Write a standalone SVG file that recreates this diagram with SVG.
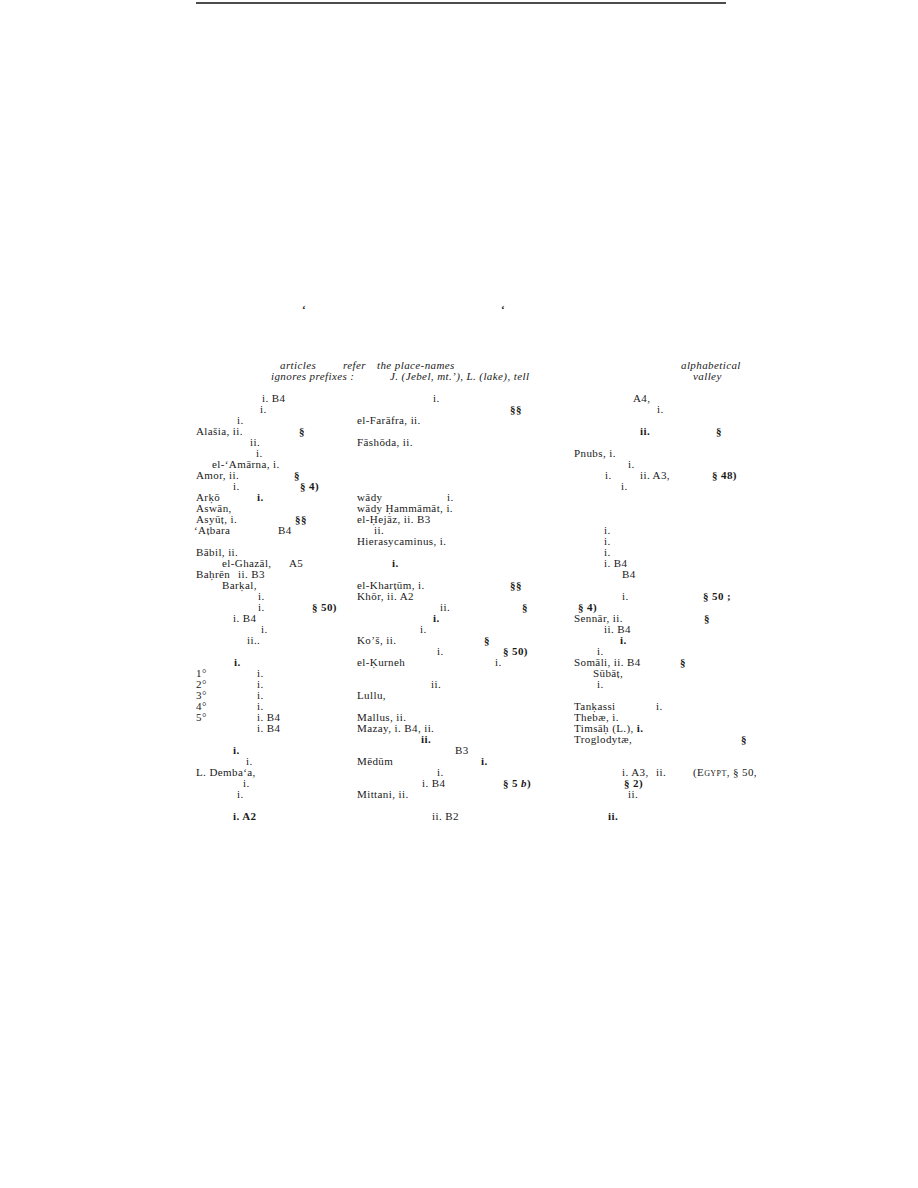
<svg xmlns="http://www.w3.org/2000/svg" width="918" height="1188" viewBox="0 0 918 1188">
<style>
text{font-family:"Liberation Serif","DejaVu Serif",serif;font-size:11px;letter-spacing:0.4px;fill:#1a1a1a}
.it{font-style:italic}
.b{font-weight:bold}
.sc{font-variant:small-caps}
</style>
<rect width="918" height="1188" fill="#fff"/>
<line x1="196" y1="3" x2="726" y2="3" stroke="#111" stroke-width="1.5"/>
<g id="header">
<text x="302" y="313" class="b" font-size="15">‘</text>
<text x="501" y="313" class="b" font-size="15">‘</text>
<text x="280" y="369" class="it">articles</text>
<text x="343" y="369" class="it">refer</text>
<text x="377" y="369" class="it">the place-names</text>
<text x="681" y="369" class="it">alphabetical</text>
<text x="271" y="380" class="it">ignores prefixes :</text>
<text x="390" y="380" class="it">J. (Jebel,   mt.’), L. (lake), tell</text>
<text x="693" y="380" class="it">valley</text>
</g>
<g id="col1">
<text x="262" y="402">i. B4</text>
<text x="260" y="413">i.</text>
<text x="237" y="424">i.</text>
<text x="196" y="435">Alašia, ii.</text><text x="299" y="435" class="b">§</text>
<text x="250" y="446">ii.</text>
<text x="256" y="457">i.</text>
<text x="212" y="468">el-‘Amārna, i.</text>
<text x="196" y="479">Amor, ii.</text><text x="294" y="479" class="b">§</text>
<text x="233" y="490">i.</text><text x="300" y="490" class="b">§ 4)</text>
<text x="196" y="501">Arḳō</text><text x="257" y="501" class="b">i.</text>
<text x="196" y="512">Aswān,</text>
<text x="196" y="523">Asyūṭ, i.</text><text x="295" y="523" class="b">§§</text>
<text x="194" y="534">‘Aṭbara</text><text x="278" y="534">B4</text>
<text x="196" y="556">Bābil, ii.</text>
<text x="222" y="567">el-Ghazāl,</text><text x="289" y="567">A5</text>
<text x="196" y="578">Baḥrēn</text><text x="238" y="578">ii. B3</text>
<text x="222" y="589">Barḳal,</text>
<text x="258" y="600">i.</text>
<text x="258" y="611">i.</text><text x="312" y="611" class="b">§ 50)</text>
<text x="233" y="622">i. B4</text>
<text x="261" y="633">i.</text>
<text x="247" y="644">ii..</text>
<text x="234" y="666" class="b">i.</text>
<text x="196" y="677">1°</text><text x="257" y="677">i.</text>
<text x="196" y="688">2°</text><text x="257" y="688">i.</text>
<text x="196" y="699">3°</text><text x="257" y="699">i.</text>
<text x="196" y="710">4°</text><text x="257" y="710">i.</text>
<text x="196" y="721">5°</text><text x="257" y="721">i. B4</text>
<text x="257" y="732">i. B4</text>
<text x="233" y="754" class="b">i.</text>
<text x="246" y="765">i.</text>
<text x="196" y="776">L. Demba‘a,</text>
<text x="243" y="787">i.</text>
<text x="237" y="798">i.</text>
<text x="233" y="820" class="b">i. A2</text>
</g>
<g id="col2">
<text x="433" y="402">i.</text>
<text x="510" y="413" class="b">§§</text>
<text x="357" y="424">el-Farāfra, ii.</text>
<text x="357" y="446">Fāshōda, ii.</text>
<text x="357" y="501">wādy</text><text x="447" y="501">i.</text>
<text x="357" y="512">wādy Ḥammāmāt, i.</text>
<text x="357" y="523">el-Ḥejāz, ii. B3</text>
<text x="374" y="534">ii.</text>
<text x="357" y="545">Hierasycaminus, i.</text>
<text x="392" y="567" class="b">i.</text>
<text x="357" y="589">el-Kharṭūm, i.</text><text x="510" y="589" class="b">§§</text>
<text x="357" y="600">Khōr, ii. A2</text>
<text x="440" y="611">ii.</text><text x="522" y="611" class="b">§</text>
<text x="433" y="622" class="b">i.</text>
<text x="420" y="633">i.</text>
<text x="357" y="644">Ko’š, ii.</text><text x="484" y="644" class="b">§</text>
<text x="437" y="655">i.</text><text x="503" y="655" class="b">§ 50)</text>
<text x="357" y="666">el-Ḳurneh</text><text x="495" y="666">i.</text>
<text x="431" y="688">ii.</text>
<text x="357" y="699">Lullu,</text>
<text x="357" y="721">Mallus, ii.</text>
<text x="357" y="732">Mazay, i. B4, ii.</text>
<text x="421" y="743" class="b">ii.</text>
<text x="455" y="754">B3</text>
<text x="357" y="765">Mēdūm</text><text x="481" y="765" class="b">i.</text>
<text x="437" y="776">i.</text>
<text x="422" y="787">i. B4</text><text x="503" y="787" class="b">§ 5 <tspan class="it">b</tspan>)</text>
<text x="357" y="798">Mittani, ii.</text>
<text x="432" y="820">ii. B2</text>
</g>
<g id="col3">
<text x="633" y="402">A4,</text>
<text x="657" y="413">i.</text>
<text x="640" y="435" class="b">ii.</text><text x="716" y="435" class="b">§</text>
<text x="574" y="457">Pnubs, i.</text>
<text x="628" y="468">i.</text>
<text x="605" y="479">i.</text><text x="640" y="479">ii. A3,</text><text x="712" y="479" class="b">§ 48)</text>
<text x="621" y="490">i.</text>
<text x="604" y="534">i.</text>
<text x="604" y="545">i.</text>
<text x="604" y="556">i.</text>
<text x="604" y="567">i. B4</text>
<text x="622" y="578">B4</text>
<text x="622" y="600">i.</text><text x="703" y="600" class="b">§ 50 ;</text>
<text x="578" y="611" class="b">§ 4)</text>
<text x="574" y="622">Sennār, ii.</text><text x="704" y="622" class="b">§</text>
<text x="604" y="633">ii. B4</text>
<text x="620" y="644" class="b">i.</text>
<text x="597" y="655">i.</text>
<text x="574" y="666">Somāli, ii. B4</text><text x="680" y="666" class="b">§</text>
<text x="593" y="677">Sūbāṭ,</text>
<text x="597" y="688">i.</text>
<text x="574" y="710">Tanḳassi</text><text x="656" y="710">i.</text>
<text x="574" y="721">Thebæ, i.</text>
<text x="574" y="732">Timsāḥ (L.), <tspan class="b">i.</tspan></text>
<text x="574" y="743">Troglodytæ,</text><text x="741" y="743" class="b">§</text>
<text x="622" y="776">i. A3,</text><text x="656" y="776">ii.</text><text x="693" y="776" font-size="10.5">(<tspan class="sc">Egypt</tspan>, § 50,</text>
<text x="624" y="787" class="b">§ 2)</text>
<text x="628" y="798">ii.</text>
<text x="608" y="820" class="b">ii.</text>
</g>
</svg>
